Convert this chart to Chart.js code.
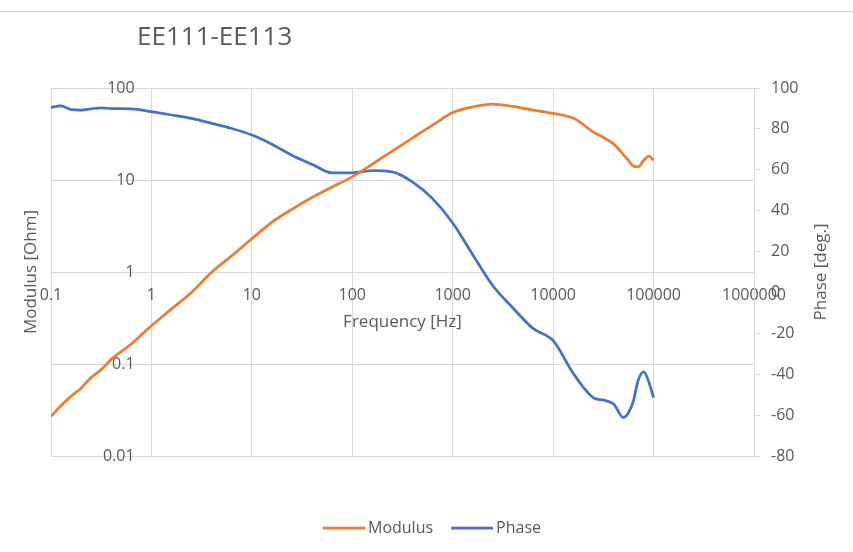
<!DOCTYPE html>
<html>
<head>
<meta charset="utf-8">
<script src="https://cdn.jsdelivr.net/npm/chart.js@4"></script>
<style>
html, body { margin: 0; padding: 0; background: #ffffff; }
#wrap { position: relative; width: 853px; height: 552px; overflow: hidden; }
#c { position: absolute; left: 0; top: 0; }
#topline { position: absolute; left: 0; top: 11px; width: 853px; height: 1px; background: #d9d9d9; }
</style>
</head>
<body>
<div id="wrap">
  <canvas id="c" width="853" height="552"></canvas>
  <div id="topline"></div>
</div>
<script>
// ---------- data ----------
const chartTitle = 'EE111-EE113';
const xAxisTitle = 'Frequency [Hz]';
const yAxisTitle = 'Modulus [Ohm]';
const y2AxisTitle = 'Phase [deg.]';
const seriesNames = ['Modulus', 'Phase'];

const frequency = [0.1, 0.125, 0.16, 0.2, 0.25, 0.32, 0.4, 0.63, 1, 1.6, 2.5, 4, 6.3, 10,
  16, 25, 40, 63, 100, 160, 250, 400, 630, 1000, 1600, 2500, 4000, 6300, 10000,
  16000, 25000, 32000, 40000, 50000, 56000, 63000, 70000, 80000, 90000, 100000];

const modulus = [0.027, 0.035, 0.045, 0.055, 0.071, 0.088, 0.113, 0.165, 0.26, 0.40, 0.60, 1.0, 1.5, 2.3,
  3.5, 4.8, 6.5, 8.4, 10.8, 15, 20.6, 28.7, 39.5, 54, 62.5, 67, 63, 57.6, 53,
  46.8, 33.4, 28.8, 24.7, 18.9, 16.4, 14.2, 13.9, 16.4, 18.2, 16.4];

const phase = [90.5, 91.2, 89.4, 89.2, 89.8, 90.3, 89.9, 89.8, 88.4, 86.8, 85.1, 82.7, 80.2, 77,
  72.4, 67.1, 62.6, 58.5, 58.5, 59.6, 59, 54, 45.9, 34, 18.1, 3.4, -7.7, -17.6, -23.6,
  -39.9, -51.4, -52.7, -54.6, -61.2, -59, -53, -43.2, -38.8, -44, -51.4];

const freqTicks = [0.1, 1, 10, 100, 1000, 10000, 100000, 1000000];
const freqTickLabels = ['0.1', '1', '10', '100', '1000', '10000', '100000', '1000000'];
const modTicks = [0.01, 0.1, 1, 10, 100];
const modTickLabels = ['0.01', '0.1', '1', '10', '100'];
const phaseTicks = [-80, -60, -40, -20, 0, 20, 40, 60, 80, 100];
const phaseTickLabels = ['-80', '-60', '-40', '-20', '0', '20', '40', '60', '80', '100'];

// ---------- style ----------
const FONT = "'Open Sans', 'Noto Sans', sans-serif";
const TEXT = '#595959';
const GRID = '#d9d9d9';
const ORANGE = '#ED7D31';
const BLUE = '#4472C4';

Chart.defaults.font.family = FONT;
Chart.defaults.color = TEXT;

function legendLine(color) {
  const c = document.createElement('canvas');
  c.width = 58; c.height = 6;
  const g = c.getContext('2d');
  g.strokeStyle = color;
  g.lineWidth = 2.75;
  g.beginPath();
  g.moveTo(16, 3);
  g.lineTo(58, 3);
  g.stroke();
  return c;
}

const tweaks = {
  id: 'tweaks',
  afterLayout(chart) {
    if (chart.titleBlock) chart.titleBlock.left = 137;
  },
  afterDraw(chart) {
    const s = chart.scales.y2;
    const ctx = chart.ctx;
    ctx.save();
    ctx.translate(s.right - 32, (chart.chartArea.top + chart.chartArea.bottom) / 2);
    ctx.rotate(-Math.PI / 2);
    ctx.font = '17px ' + FONT;
    ctx.fillStyle = TEXT;
    ctx.textAlign = 'center';
    ctx.textBaseline = 'middle';
    ctx.fillText(y2AxisTitle, 0, 0);
    ctx.restore();
  }
};

new Chart(document.getElementById('c'), {
  type: 'line',
  data: {
    datasets: [
      {
        label: seriesNames[0],
        data: frequency.map((f, i) => ({ x: f, y: modulus[i] })),
        yAxisID: 'y',
        borderColor: ORANGE,
        backgroundColor: ORANGE,
        borderWidth: 2.75,
        pointRadius: 0,
        pointHoverRadius: 0,
        pointStyle: legendLine(ORANGE),
        cubicInterpolationMode: 'monotone',
        fill: false
      },
      {
        label: seriesNames[1],
        data: frequency.map((f, i) => ({ x: f, y: phase[i] })),
        yAxisID: 'y2',
        borderColor: BLUE,
        backgroundColor: BLUE,
        borderWidth: 2.75,
        pointRadius: 0,
        pointHoverRadius: 0,
        pointStyle: legendLine(BLUE),
        cubicInterpolationMode: 'monotone',
        fill: false
      }
    ]
  },
  options: {
    responsive: false,
    animation: false,
    devicePixelRatio: 1,
    layout: { padding: { left: 0, right: 0, top: 0, bottom: 6 } },
    plugins: {
      title: {
        display: true,
        text: chartTitle,
        align: 'start',
        color: TEXT,
        font: { size: 26, weight: 'normal', family: FONT },
        padding: { top: 22, bottom: 34.8 }
      },
      legend: {
        display: true,
        position: 'bottom',
        labels: {
          usePointStyle: true,
          pointStyleWidth: 48,
          padding: 7,
          color: TEXT,
          font: { size: 16, family: FONT }
        }
      },
      tooltip: { enabled: false }
    },
    scales: {
      x: {
        type: 'logarithmic',
        position: { y: 1 },
        min: 0.1,
        max: 1000000,
        afterBuildTicks: s => { s.ticks = freqTicks.map(v => ({ value: v })); },
        ticks: {
          autoSkip: false, maxRotation: 0, minRotation: 0, padding: 0,
          color: TEXT, font: { size: 16 },
          callback: (v, i) => freqTickLabels[i]
        },
        grid: { color: GRID, lineWidth: 1, drawTicks: true, tickLength: 13.5 },
        border: { color: GRID, width: 1 },
        title: { display: true, text: xAxisTitle, color: TEXT, font: { size: 17 }, padding: { top: 7.5, bottom: 0 } }
      },
      y: {
        type: 'logarithmic',
        position: { x: 0.68 },
        min: 0.01,
        max: 100,
        afterBuildTicks: s => { s.ticks = modTicks.map(v => ({ value: v })); },
        ticks: {
          padding: 0, color: TEXT, font: { size: 16 },
          callback: (v, i) => modTickLabels[i]
        },
        grid: { color: GRID, lineWidth: 1, drawTicks: false },
        border: { display: false }
      },
      y2: {
        type: 'linear',
        position: 'right',
        min: -80,
        max: 100,
        afterBuildTicks: s => { s.ticks = phaseTicks.map(v => ({ value: v })); },
        ticks: {
          padding: 11, color: TEXT, font: { size: 16 },
          callback: (v, i) => phaseTickLabels[i]
        },
        grid: { drawOnChartArea: false, color: GRID, drawTicks: true, tickLength: 6 },
        border: { color: GRID, width: 1 },
        afterFit: s => { s.width = 99; }
      },
      yl: {
        type: 'linear',
        position: 'left',
        display: true,
        ticks: { display: false },
        grid: { display: false },
        border: { display: false },
        title: { display: true, text: yAxisTitle, color: TEXT, font: { size: 17 }, padding: { top: 21, bottom: 0 } },
        afterFit: s => { s.width = 51; }
      },
      xb: {
        type: 'linear',
        position: 'bottom',
        display: true,
        ticks: { display: false },
        grid: { display: false },
        border: { display: false },
        afterFit: s => { s.height = 57; }
      }
    }
  },
  plugins: [tweaks]
});
</script>
</body>
</html>
